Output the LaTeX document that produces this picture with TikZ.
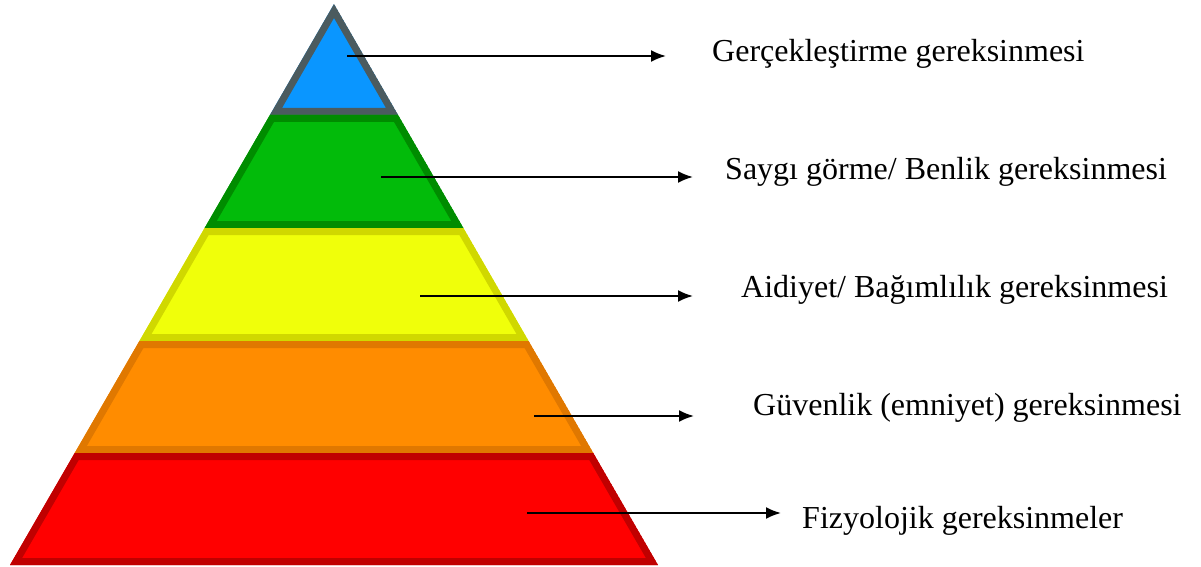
\documentclass[tikz,border=0pt]{standalone}
\usepackage{fontspec}
\setmainfont{Liberation Serif}
\usetikzlibrary{arrows.meta}
\definecolor{bluefill}{HTML}{0A96FF}
\definecolor{blueedge}{HTML}{4B5B5F}
\definecolor{greenfill}{HTML}{02BB0A}
\definecolor{greenedge}{HTML}{008C00}
\definecolor{yellowfill}{HTML}{F0FF0A}
\definecolor{yellowedge}{HTML}{D0D800}
\definecolor{orangefill}{HTML}{FF8C00}
\definecolor{orangeedge}{HTML}{E07800}
\definecolor{redfill}{HTML}{FF0000}
\definecolor{rededge}{HTML}{C00000}
\tikzset{
  lbl/.style={anchor=base west,inner sep=0pt,font=\fontsize{32}{38}\selectfont},
  conn/.style={line width=2pt,-{Latex[length=15pt,width=12pt]}}
}
\newcommand{\layer}[3]{%
  \begin{scope}
    \clip #1;
    \fill[#2] #1;
    \draw[#3,line width=14pt] #1;
  \end{scope}}
\begin{document}
\begin{tikzpicture}[x=1pt,y=-1pt]
\useasboundingbox (0,0) rectangle (1201,567);
% layers
\layer{(334,4) -- (398.1,115) -- (269.9,115) -- cycle}{bluefill}{blueedge}
\layer{(269.9,115) -- (398.1,115) -- (463.4,228) -- (204.6,228) -- cycle}{greenfill}{greenedge}
\layer{(204.6,228) -- (463.4,228) -- (528.6,341) -- (139.4,341) -- cycle}{yellowfill}{yellowedge}
\layer{(139.4,341) -- (528.6,341) -- (593.3,453) -- (74.7,453) -- cycle}{orangefill}{orangeedge}
\layer{(74.7,453) -- (593.3,453) -- (658,565) -- (10,565) -- cycle}{redfill}{rededge}
% labels
\node[lbl] (t1) at (712,62) {Gerçekleştirme gereksinmesi};
\node[lbl] (t2) at (725,179) {Saygı görme/ Benlik gereksinmesi};
\node[lbl] (t3) at (741,297) {Aidiyet/ Bağımlılık gereksinmesi};
\node[lbl] (t4) at (753,415) {Güvenlik (emniyet) gereksinmesi};
\node[lbl] (t5) at (802,528) {Fizyolojik gereksinmeler};
% connector ends
\coordinate (s1) at (347,56);  \coordinate (e1) at (666,56);
\coordinate (s2) at (381,177); \coordinate (e2) at (693,177);
\coordinate (s3) at (420,296); \coordinate (e3) at (693,296);
\coordinate (s4) at (534,416); \coordinate (e4) at (694,416);
\coordinate (s5) at (527,513); \coordinate (e5) at (781,513);
\draw[conn] (s1) -- (e1);
\draw[conn] (s2) -- (e2);
\draw[conn] (s3) -- (e3);
\draw[conn] (s4) -- (e4);
\draw[conn] (s5) -- (e5);
\end{tikzpicture}
\end{document}
